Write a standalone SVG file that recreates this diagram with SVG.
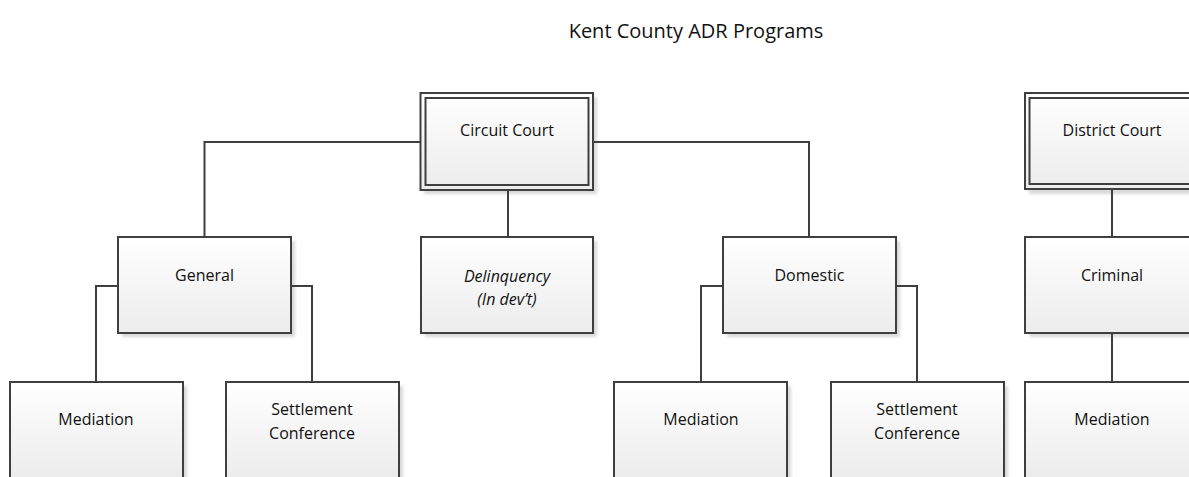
<svg xmlns="http://www.w3.org/2000/svg" width="1189" height="477" viewBox="0 0 1189 477">
<style>
.box{fill:url(#g);stroke:#3f3f3f;stroke-width:2}
.sh{fill:#d9d9d9;filter:url(#blur)}
.t{font-family:"Open Sans","Liberation Sans",sans-serif;font-size:16px;fill:#111;text-anchor:middle}
.it{font-style:italic}
.c{fill:none;stroke:#3f3f3f;stroke-width:2}
</style>
<defs>
<linearGradient id="g" x1="0" y1="0" x2="0" y2="1">
<stop offset="0" stop-color="#ffffff"/>
<stop offset="1" stop-color="#ececec"/>
</linearGradient>
<filter id="blur" x="-10%" y="-10%" width="120%" height="120%"><feGaussianBlur stdDeviation="1.5"/></filter>
</defs>
<rect width="1189" height="477" fill="#fff"/>
<text x="696" y="38" font-family="'Open Sans','Liberation Sans',sans-serif" font-size="20" fill="#111" text-anchor="middle">Kent County ADR Programs</text>
<g id="circuit-court">
<rect class="sh" x="424" y="97" width="173" height="97"/>
<rect class="box" x="420.5" y="93" width="172.5" height="97"/>
<rect fill="none" stroke="#3f3f3f" stroke-width="2" x="425.5" y="98" width="163" height="87"/>
<text class="t" x="507" y="136">Circuit Court</text>
</g>
<g id="district-court">
<rect class="sh" x="1029" y="97" width="173" height="97"/>
<rect class="box" x="1025" y="93" width="173" height="96"/>
<rect fill="none" stroke="#3f3f3f" stroke-width="2" x="1029.5" y="98" width="164" height="86"/>
<text class="t" x="1112" y="136">District Court</text>
</g>
<g id="general">
<rect class="sh" x="122" y="241" width="173" height="96"/>
<rect class="box" x="118" y="237" width="173" height="96"/>
<text class="t" x="204.5" y="281">General</text>
</g>
<g id="delinquency">
<rect class="sh" x="425" y="241" width="172" height="96"/>
<rect class="box" x="421" y="237" width="172" height="96"/>
<text class="t it" x="507" y="282">Delinquency</text>
<text class="t it" x="507" y="305">(In dev’t)</text>
</g>
<g id="domestic">
<rect class="sh" x="727" y="241" width="173" height="96"/>
<rect class="box" x="723" y="237" width="173" height="96"/>
<text class="t" x="809.5" y="281">Domestic</text>
</g>
<g id="criminal">
<rect class="sh" x="1029" y="241" width="173" height="96"/>
<rect class="box" x="1025" y="237" width="173" height="96"/>
<text class="t" x="1112" y="281">Criminal</text>
</g>
<g id="general-mediation">
<rect class="sh" x="14" y="386" width="173" height="96"/>
<rect class="box" x="10" y="382" width="173" height="96"/>
<text class="t" x="96" y="425">Mediation</text>
</g>
<g id="general-settlement">
<rect class="sh" x="230" y="386" width="173" height="96"/>
<rect class="box" x="226" y="382" width="173" height="96"/>
<text class="t" x="312" y="415">Settlement</text>
<text class="t" x="312" y="439">Conference</text>
</g>
<g id="domestic-mediation">
<rect class="sh" x="618" y="386" width="173" height="96"/>
<rect class="box" x="614" y="382" width="173" height="96"/>
<text class="t" x="701" y="425">Mediation</text>
</g>
<g id="domestic-settlement">
<rect class="sh" x="835" y="386" width="173" height="96"/>
<rect class="box" x="831" y="382" width="173" height="96"/>
<text class="t" x="917" y="415">Settlement</text>
<text class="t" x="917" y="439">Conference</text>
</g>
<g id="criminal-mediation">
<rect class="sh" x="1029" y="386" width="173" height="96"/>
<rect class="box" x="1025" y="382" width="173" height="96"/>
<text class="t" x="1112" y="425">Mediation</text>
</g>
<g id="connectors">
<path class="c" d="M420 142H204.5V237"/>
<path class="c" d="M593 142H809V237"/>
<path class="c" d="M508 190V237"/>
<path class="c" d="M118 286H96V382"/>
<path class="c" d="M291 286H312V382"/>
<path class="c" d="M723 286H701V382"/>
<path class="c" d="M896 286H917V382"/>
<path class="c" d="M1112 189V237"/>
<path class="c" d="M1112 333V382"/>
</g>
</svg>
